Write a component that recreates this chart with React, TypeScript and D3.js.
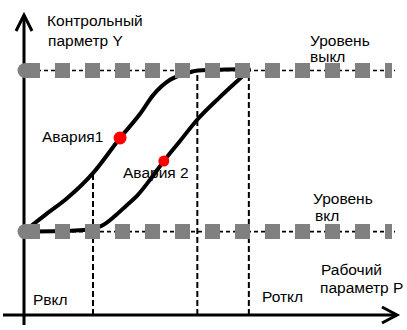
import React from 'react';
import * as d3 from 'd3';

const W = 407;
const H = 330;

// Levels (Y units) and characteristic points (P units)
const levelOn = 27.8;
const levelOff = 81.5;
const pOn = 18.75;
const pMid = 47.1;
const pOff = 61.1;

// Curve 1 (Авария1): [P, Y]
const curve1: [number, number][] = [
  [0, 27.8], [5.7, 33.3], [11.7, 38.9], [18.75, 47.3], [26.1, 59], [31.5, 67],
  [35.1, 73.3], [39.7, 78.4], [44.3, 80.6], [47.3, 81.5], [61.1, 82.0],
];
// Curve 2 (Авария 2): [P, Y]
const curve2: [number, number][] = [
  [0, 27.8], [9.8, 28.0], [18.75, 28.7], [21.5, 30], [24.7, 33], [28, 36.7],
  [30.7, 39.7], [34.2, 45], [38, 51.3], [42.4, 58], [47, 65], [53.3, 72.7],
  [59.5, 79.7], [61.1, 81.5],
];
const alarmP = [26.1, 38.0];
const alarmY = [59.0, 51.3];

const FONT = '"Liberation Sans", Arial, sans-serif';

export default function App() {
  const xs = d3.scaleLinear().domain([0, 100]).range([24, 392]);
  const ys = d3.scaleLinear().domain([0, 100]).range([315, 15]);
  const line = d3
    .line<[number, number]>()
    .x((d) => xs(d[0]))
    .y((d) => ys(d[1]))
    .curve(d3.curveMonotoneX);

  const x0 = xs(0);
  const y0 = ys(0);
  const gray = '#808080';

  const level = (lv: number) => {
    const y = ys(lv);
    return (
      <g key={'lv' + lv}>
        <line x1={x0 + 13} x2={xs(100) + 3} y1={y} y2={y} stroke="#000" strokeWidth={1.6} strokeDasharray="4 3" />
      </g>
    );
  };
  const squares = (lv: number) => {
    const y = ys(lv);
    return (
      <g key={'sq' + lv}>
        <line x1={x0 + 1} x2={xs(100)} y1={y} y2={y} stroke={gray} strokeWidth={15} strokeDasharray="15 15" />
        <circle cx={x0 + 1} cy={y} r={7.5} fill={gray} />
      </g>
    );
  };

  const textStyle = { fontFamily: FONT, fontSize: 15.5, fill: '#000' } as const;

  return (
    <svg width={W} height={H} style={{ position: 'fixed', left: 0, top: 0, background: '#fff' }}>
      <rect width={W} height={H} fill="#fff" />
      {/* axes */}
      <line x1={x0} x2={x0} y1={y0 + 10} y2={ys(100)} stroke="#000" strokeWidth={3} />
      <polyline points={`${x0 - 8},${ys(100) + 16} ${x0},${ys(100)} ${x0 + 8},${ys(100) + 16}`} fill="none" stroke="#000" strokeWidth={3} />
      <line x1={x0 - 21} x2={xs(100) + 5} y1={y0} y2={y0} stroke="#000" strokeWidth={3} />
      <polyline points={`${xs(100) - 10},${y0 - 8} ${xs(100) + 5},${y0} ${xs(100) - 10},${y0 + 8}`} fill="none" stroke="#000" strokeWidth={3} />

      {/* vertical dashed guides */}
      <line x1={xs(pOn)} x2={xs(pOn)} y1={y0} y2={ys(47.3)} stroke="#000" strokeWidth={2} strokeDasharray="6 3" />
      <line x1={xs(pMid)} x2={xs(pMid)} y1={y0} y2={ys(levelOff)} stroke="#000" strokeWidth={2} strokeDasharray="6 3" />
      <line x1={xs(pOff)} x2={xs(pOff)} y1={y0} y2={ys(levelOff)} stroke="#000" strokeWidth={2} strokeDasharray="6 3" />

      {[levelOff, levelOn].map(level)}

      {/* curves */}
      <path d={line(curve1) || ''} fill="none" stroke="#000" strokeWidth={4} strokeLinecap="round" />
      <path d={line(curve2) || ''} fill="none" stroke="#000" strokeWidth={4} strokeLinecap="round" />

      {[levelOff, levelOn].map(squares)}

      {alarmP.map((p, i) => (
        <circle key={i} cx={xs(p)} cy={ys(alarmY[i])} r={i === 0 ? 6.5 : 5.5} fill="#ff0000" />
      ))}

      {/* labels */}
      <text x={47} y={26} style={textStyle}>Контрольный</text>
      <text x={48} y={46} style={textStyle}>парметр Y</text>
      <text x={310} y={46} style={textStyle}>Уровень</text>
      <text x={310} y={62} style={textStyle}>выкл</text>
      <text x={313} y={204} style={textStyle}>Уровень</text>
      <text x={315} y={221} style={textStyle}>вкл</text>
      <text x={42} y={142} style={textStyle}>Авария1</text>
      <text x={123} y={178} style={textStyle}>Авария 2</text>
      <text x={33} y={305} style={textStyle}>Рвкл</text>
      <text x={262} y={302} style={textStyle}>Роткл</text>
      <text x={321} y={275} style={textStyle}>Рабочий</text>
      <text x={320} y={293} style={textStyle}>параметр P</text>
    </svg>
  );
}
